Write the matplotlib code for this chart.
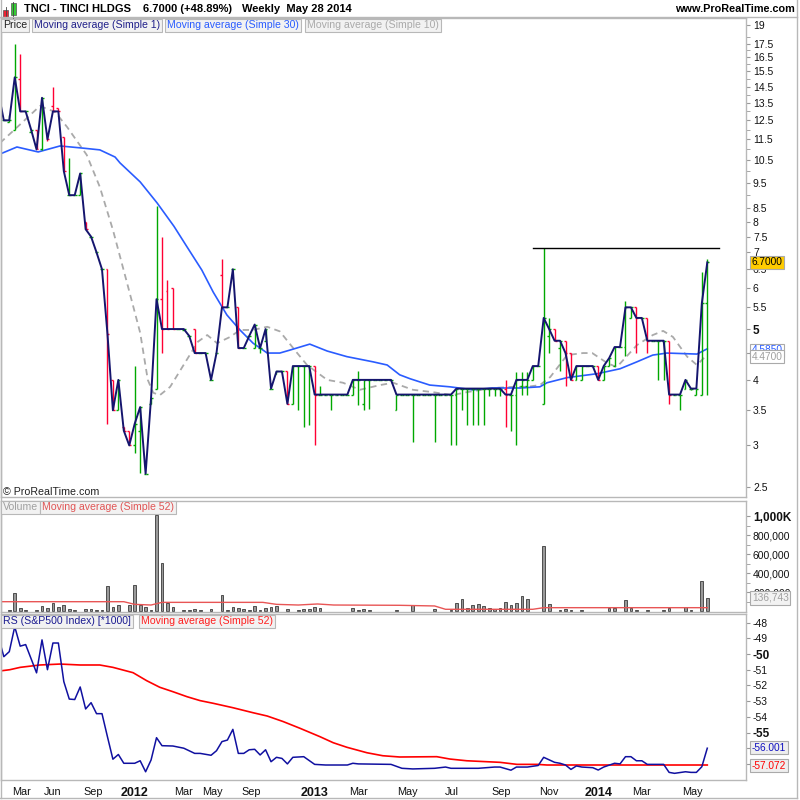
"""
TNCI weekly chart (ProRealTime style) recreated with matplotlib.
"""
import numpy as np
import matplotlib
matplotlib.use('Agg')
import matplotlib.pyplot as plt
import matplotlib.transforms as mtransforms
from matplotlib.patches import Rectangle
from matplotlib.lines import Line2D
from matplotlib.ticker import NullFormatter

plt.rcParams['font.family'] = ['Liberation Sans', 'DejaVu Sans']

# ---- weekly bars (one entry per bar, oldest first) ----
closes = [14.1, 12.5, 12.5, 15.1, 13.0, 13.0, 12.0, 11.0, 13.8, 11.5,
          13.0, 13.0, 10.0, 9.0, 9.0, 9.9, 7.75, 7.5, 7.0, 6.5,
          4.9, 3.5, 4.0, 3.2, 3.0, 3.3, 3.55, 2.65, 3.7, 5.7,
          5.0, 5.0, 5.0, 5.0, 5.0, 4.85, 4.5, 4.5, 4.5, 4.0,
          4.5, 5.5, 5.5, 6.5, 4.6, 4.6, 4.85, 5.1, 4.6, 5.0,
          3.85, 4.15, 4.15, 3.6, 4.25, 4.25, 4.25, 4.25, 3.75, 3.75,
          3.75, 3.75, 3.75, 3.75, 3.75, 4.0, 4.0, 4.0, 4.0, 4.0,
          4.0, 4.0, 4.0, 3.75, 3.75, 3.75, 3.75, 3.75, 3.75, 3.75,
          3.75, 3.75, 3.75, 3.75, 3.85, 3.85, 3.85, 3.85, 3.85, 3.85,
          3.85, 3.85, 3.85, 3.75, 3.75, 4.0, 4.0, 4.0, 4.25, 4.25,
          5.25, 5.0, 4.75, 4.75, 4.5, 4.0, 4.25, 4.25, 4.25, 4.25,
          4.0, 4.25, 4.4, 4.62, 4.62, 5.5, 5.5, 5.25, 5.25, 4.75,
          4.75, 4.75, 4.75, 3.75, 3.75, 3.75, 4.0, 3.85, 3.85, 5.6,
          6.7]
opens = [14.1, 12.5, 12.4, 12.0, 15.0, 13.0, 11.9, 12.0, 11.0, 11.7,
         13.3, 13.2, 11.6, 9.0, 9.0, 9.0, 8.0, 7.5, 7.0, 6.5,
         6.5, 4.0, 3.5, 3.25, 3.2, 3.0, 3.2, 2.65, 3.6, 3.85,
         5.7, 5.9, 6.0, 5.0, 4.98, 4.85, 5.0, 4.5, 4.5, 4.0,
         4.5, 6.35, 5.5, 6.5, 5.5, 4.6, 4.85, 4.6, 4.6, 4.75,
         3.85, 4.1, 4.15, 4.15, 3.6, 4.25, 4.25, 4.25, 4.25, 3.75,
         3.75, 3.75, 3.75, 3.75, 3.75, 3.75, 4.0, 3.6, 4.0, 4.0,
         4.0, 4.0, 4.0, 3.5, 3.75, 3.75, 3.75, 3.75, 3.75, 3.75,
         3.75, 3.75, 3.75, 3.75, 3.75, 3.85, 3.85, 3.85, 3.85, 3.85,
         3.85, 3.85, 3.85, 3.85, 3.75, 3.75, 3.9, 3.9, 4.0, 4.25,
         3.6, 4.85, 5.0, 4.6, 4.75, 4.5, 4.0, 4.0, 4.25, 4.25,
         4.25, 4.0, 4.25, 4.25, 4.62, 4.62, 5.25, 5.5, 5.25, 5.25,
         4.75, 4.75, 4.75, 4.75, 3.75, 3.75, 3.85, 3.85, 3.75, 3.75,
         5.6]
highs = [14.1, 12.5, 12.8, 17.5, 16.7, 13.0, 12.0, 12.0, 13.8, 11.7,
         14.5, 13.2, 11.6, 10.6, 9.0, 9.9, 8.0, 7.5, 7.0, 6.5,
         6.5, 4.0, 4.0, 3.25, 3.2, 4.25, 3.55, 2.65, 3.7, 8.6,
         7.5, 6.2, 6.0, 5.0, 5.0, 4.85, 5.0, 4.5, 4.5, 4.0,
         4.5, 6.8, 5.5, 6.5, 5.5, 4.6, 4.85, 5.1, 4.6, 5.0,
         3.85, 4.15, 4.15, 4.15, 4.25, 4.25, 4.25, 4.25, 4.25, 3.9,
         3.75, 3.75, 3.75, 3.75, 3.75, 4.0, 4.15, 4.0, 4.0, 4.0,
         4.0, 4.0, 4.0, 3.75, 3.75, 3.75, 3.75, 3.75, 3.75, 3.75,
         3.75, 3.75, 3.75, 3.75, 3.85, 3.85, 3.85, 3.85, 3.85, 3.85,
         3.85, 3.85, 3.85, 4.0, 3.75, 4.14, 4.14, 4.14, 4.25, 4.25,
         7.14, 5.25, 5.0, 4.75, 4.75, 4.5, 4.25, 4.25, 4.25, 4.25,
         4.25, 4.25, 4.4, 4.62, 4.62, 5.65, 5.5, 5.5, 5.25, 5.25,
         4.75, 4.75, 4.75, 4.75, 3.75, 3.75, 4.0, 3.85, 3.85, 6.42,
         6.8]
lows = [14.1, 12.5, 12.4, 12.0, 13.0, 13.0, 11.9, 11.0, 10.95, 11.4,
        13.0, 13.0, 10.0, 9.0, 9.0, 9.0, 7.75, 7.5, 7.0, 6.5,
        3.3, 3.5, 3.5, 3.2, 3.0, 2.9, 2.66, 2.65, 3.6, 3.85,
        4.5, 5.0, 5.0, 5.0, 4.98, 4.85, 4.5, 4.5, 4.5, 4.0,
        4.5, 5.5, 5.5, 6.5, 4.6, 4.6, 4.85, 4.6, 4.5, 4.75,
        3.85, 4.1, 4.15, 3.6, 3.6, 3.5, 3.25, 3.28, 3.0, 3.75,
        3.75, 3.5, 3.75, 3.75, 3.75, 3.75, 3.58, 3.5, 3.52, 4.0,
        4.0, 4.0, 4.0, 3.5, 3.75, 3.75, 3.05, 3.75, 3.75, 3.75,
        3.05, 3.75, 3.75, 3.0, 3.0, 3.5, 3.28, 3.28, 3.28, 3.28,
        3.72, 3.72, 3.72, 3.25, 3.2, 3.0, 3.75, 3.75, 4.0, 4.25,
        3.6, 4.5, 4.75, 4.15, 3.9, 4.0, 4.0, 4.0, 4.25, 4.25,
        4.0, 4.0, 4.25, 4.25, 4.62, 4.45, 5.25, 4.5, 5.25, 4.5,
        4.75, 4.0, 4.0, 3.6, 3.75, 3.5, 3.85, 3.82, 3.75, 3.75,
        3.75]
# weekly volume, thousands of shares
volumes_k = [0, 0, 10, 186, 35, 10, 0, 10, 53, 28,
             81, 39, 63, 21, 10, 0, 18, 18, 10, 10,
             263, 39, 63, 0, 63, 274, 63, 39, 10, 1010,
             502, 81, 39, 0, 10, 10, 18, 10, 0, 18,
             0, 168, 10, 39, 28, 18, 10, 53, 10, 28,
             39, 53, 0, 18, 0, 10, 18, 18, 39, 28,
             0, 0, 0, 0, 0, 28, 10, 18, 10, 0,
             0, 0, 0, 10, 0, 0, 63, 0, 0, 0,
             18, 0, 0, 10, 81, 123, 28, 63, 74, 53,
             28, 18, 28, 91, 63, 81, 158, 123, 0, 0,
             684, 74, 0, 10, 18, 10, 0, 10, 0, 0,
             0, 0, 35, 28, 0, 112, 28, 10, 0, 10,
             0, 0, 10, 28, 0, 0, 39, 10, 0, 316,
             137]

# moving averages (bar position, value)
ma30_pos = [0.3, 3.4, 7.3, 11.3, 15.3, 18.6, 21.4, 22.3, 26.0, 29.1, 32.2, 34.6,
            37.3, 39.4, 41.9, 44.3, 46.7, 49.3, 51.6, 53.5, 57.1, 60.3, 63.9,
            68.7, 71.3, 73.6, 75.5, 79.1, 82.8, 87.0, 90.7, 95.7, 99.3, 100.6,
            104.3, 109.8, 114.0, 117.1, 120.0, 122.6, 128.1, 130.0]
ma30_val = [10.78, 11.12, 10.88, 11.17, 11.07, 10.98, 10.64, 10.37, 9.54, 8.70,
            7.85, 7.17, 6.48, 5.88, 5.32, 4.98, 4.70, 4.50, 4.50, 4.56, 4.68,
            4.54, 4.43, 4.33, 4.27, 4.09, 4.02, 3.91, 3.88, 3.83, 3.86, 3.86,
            3.88, 3.95, 4.04, 4.11, 4.20, 4.33, 4.46, 4.50, 4.48, 4.585]
ma10_pos = [0.3, 2.7, 7.6, 10.4, 12.6, 16.2, 18.6, 21.0, 23.6, 26.0, 27.4, 28.4,
            29.6, 31.5, 34.2, 36.6, 38.3, 40.1, 42.5, 44.3, 46.7, 49.3, 51.6,
            54.8, 56.6, 60.3, 63.2, 66.3, 70.0, 72.4, 76.0, 79.7, 83.2, 85.9,
            90.7, 94.4, 97.0, 99.3, 101.2, 104.3, 107.2, 108.9, 111.6, 113.4,
            117.1, 120.0, 121.9, 123.7, 126.3, 128.1, 130.0]
ma10_val = [11.32, 11.93, 13.31, 12.97, 12.14, 10.74, 9.33, 7.73, 6.12, 4.92,
            4.0, 3.78, 3.74, 3.88, 4.31, 4.73, 4.87, 4.70, 4.83, 4.98, 4.98,
            5.05, 4.95, 4.50, 4.27, 4.0, 3.95, 3.83, 3.91, 3.95, 3.83, 3.79,
            3.74, 3.79, 3.86, 3.88, 3.88, 3.91, 4.05, 4.46, 4.50, 4.50, 4.31,
            4.23, 4.66, 4.87, 4.96, 4.83, 4.43, 4.27, 4.47]
vma_pos = [0, 23, 25, 28, 30, 48.5, 51, 55, 58.5, 61.5, 73.6, 80, 82, 98, 100, 130]
vma_k = [98, 98, 70, 63, 91, 91, 70, 63, 74, 63, 60, 53, 18, 18, 35, 35]

# relative strength vs S&P500 (*1000) and its 52-week average
rs_pos = [0, 1, 2, 3, 4, 5, 7, 8, 9, 10, 11, 12, 13, 14, 15, 16, 17, 18, 19, 20,
          21, 22, 23, 25, 26, 27, 28, 29, 30, 32, 34, 36, 37, 39, 40, 41, 42, 43,
          44, 45, 46, 47, 48, 49, 50, 51, 52, 53, 54, 56, 58, 60, 64, 65, 66, 72,
          74, 76, 80, 82, 83, 88, 91, 92, 94, 95, 97, 99, 100, 102, 103, 104, 105,
          106, 107, 109, 110, 111, 113, 114, 115, 116, 117, 118, 119, 122, 123,
          124, 126, 127, 128, 129, 130]
rs_val = [-48.9, -50.17, -49.85, -48.26, -49.5, -49.4, -51.2, -49.1, -51.0, -49.3,
          -49.3, -51.76, -52.87, -52.9, -52.1, -53.5, -53.1, -53.8, -53.8, -55.27,
          -56.7, -56.4, -56.96, -56.96, -56.8, -57.5, -56.75, -55.33, -55.84, -55.86,
          -56.0, -56.33, -56.33, -56.45, -56.16, -55.58, -55.48, -54.8, -56.33,
          -56.33, -56.1, -56.07, -56.43, -56.1, -56.86, -56.58, -56.65, -57.0,
          -56.58, -56.54, -57.03, -57.07, -57.07, -56.96, -57.0, -57.03, -57.28,
          -57.32, -57.28, -57.2, -57.28, -57.28, -57.2, -57.2, -57.4, -57.2, -57.2,
          -57.1, -56.58, -56.9, -56.96, -57.07, -57.35, -57.13, -57.2, -57.24,
          -57.39, -57.2, -56.96, -57.0, -56.54, -56.54, -56.8, -56.8, -57.03,
          -57.03, -57.54, -57.6, -57.5, -57.54, -57.54, -57.18, -56.0]
rsma_pos = [0.3, 2.1, 4, 7.6, 11.3, 15, 18.6, 21, 24.7, 27.2, 29.6, 32, 34.6, 37,
            39.4, 43, 46.7, 49.3, 52.2, 55.3, 59, 61.4, 63.9, 67.6, 70.5, 73.6,
            80.4, 82.8, 85.9, 92, 95.1, 98.8, 100.6, 130]
rsma_val = [-51.08, -51.0, -50.85, -50.7, -50.64, -50.7, -50.7, -50.85, -51.19,
            -51.7, -52.12, -52.4, -52.72, -52.97, -53.14, -53.42, -53.74, -53.95,
            -54.3, -54.73, -55.27, -55.65, -55.94, -56.29, -56.48, -56.56, -56.54,
            -56.69, -56.8, -56.9, -57.03, -57.03, -57.07, -57.07]

resist_level = 7.14
resist_span = [98.0, 132.1]

date_pos = [4.3, 10.0, 17.4, 25.0, 34.0, 39.2, 46.3, 57.9, 66.1, 75.1, 83.2,
            92.2, 101.0, 110.0, 118.0, 127.2]
date_lbl = ['Mar', 'Jun', 'Sep', '2012', 'Mar', 'May', 'Sep', '2013', 'Mar',
            'May', 'Jul', 'Sep', 'Nov', '2014', 'Mar', 'May']

price_ticks = [19, 17.5, 16.5, 15.5, 14.5, 13.5, 12.5, 11.5, 10.5, 9.5, 8.5, 8,
               7.5, 7, 6.5, 6, 5.5, 5, 4.5, 4, 3.5, 3, 2.5]
price_minor = [18, 17, 16, 15, 14, 13, 12, 11, 10, 9]
vol_ticks = [200000, 400000, 600000, 800000, 1000000]
vol_lbl = ['200,000', '400,000', '600,000', '800,000', '1,000K']
rs_ticks = [-48, -49, -50, -51, -52, -53, -54, -55, -56, -57]

GREEN = '#00a800'
RED = '#ff0033'
NAVY = '#15156e'
BORDER = '#b8b8b8'

W, H = 800, 800


def fx(px):
    return px / W


def fy(py):
    return 1 - py / H


closes, opens = np.array(closes), np.array(opens)
highs, lows = np.array(highs), np.array(lows)
vols = np.array(volumes_k) * 1000.0
idx = np.arange(len(closes))

fig = plt.figure(figsize=(8, 8), dpi=100)
ax_p = fig.add_axes([fx(1), fy(497), 745 / W, 479 / H])
ax_v = fig.add_axes([fx(1), fy(612), 745 / W, 111 / H], sharex=ax_p)
ax_r = fig.add_axes([fx(1), fy(780), 745 / W, 166 / H], sharex=ax_p)

for ax in (ax_p, ax_v, ax_r):
    for s in ax.spines.values():
        s.set_color(BORDER)
        s.set_linewidth(1.0)
    ax.yaxis.tick_right()
    ax.tick_params(axis='y', which='both', direction='out', length=3, color='#999999',
                   labelsize=7.5, pad=2, labelcolor='#111111')
    ax.tick_params(axis='x', length=0)
    ax.set_facecolor('white')
ax_p.set_xlim(0.48, 137.1)

# ---- price panel ----
ax_p.set_yscale('log')
ax_p.set_ylim(2.392, 19.59)
ax_p.plot(ma10_pos, ma10_val, color='#aaaaaa', lw=1.3, ls=(0, (3.5, 2.5)), zorder=1)
ax_p.plot(ma30_pos, ma30_val, color='#2a5cff', lw=1.2, zorder=2)
col = np.where(closes >= opens, GREEN, RED)
ax_p.vlines(idx, lows, highs, colors=col, lw=1.0, zorder=3)
ax_p.hlines(opens, idx - 0.35, idx, colors=col, lw=1.0, zorder=3)
ax_p.hlines(closes, idx, idx + 0.35, colors=col, lw=1.0, zorder=3)
ax_p.plot(idx, closes, color=NAVY, lw=1.4, zorder=4)
ax_p.plot(resist_span, [resist_level, resist_level], color='black', lw=1.0, zorder=5,
          clip_on=False)
ax_p.set_yticks(price_ticks)
# 4.5 sits under the moving-average value boxes, so it is left blank
ax_p.set_yticklabels([('' if t == 4.5 else '%g' % t) for t in price_ticks])
ax_p.yaxis.set_minor_formatter(NullFormatter())
ax_p.set_yticks(price_minor, minor=True)
for t in ax_p.get_yticklabels():
    if t.get_text() == '5':
        t.set_fontweight('bold')
        t.set_fontsize(8.5)
ax_p.tick_params(axis='x', labelbottom=False)

tr_p = mtransforms.blended_transform_factory(ax_p.transAxes, ax_p.transData)
ax_p.text(1.008, 6.7, '6.7000', transform=tr_p, va='center', ha='left', fontsize=7.3,
          color='black', zorder=10, clip_on=False,
          bbox=dict(boxstyle='square,pad=0.15', fc='#ffcc00', ec='#aaaaaa', lw=0.8))
ax_p.text(1.008, 4.56, '4.5850', transform=tr_p, va='center', ha='left', fontsize=7.3,
          color='#2a5cff', zorder=10, clip_on=False,
          bbox=dict(boxstyle='square,pad=0.15', fc='white', ec='#aaaaaa', lw=0.8))
ax_p.text(1.008, 4.43, '4.4700', transform=tr_p, va='center', ha='left', fontsize=7.3,
          color='#a0a0a0', zorder=11, clip_on=False,
          bbox=dict(boxstyle='square,pad=0.15', fc='white', ec='#aaaaaa', lw=0.8))

# ---- volume panel ----
ax_v.set_ylim(-10500, 1157900)
m = vols > 0
ax_v.bar(idx[m], vols[m], width=0.5, color='#9a9a9a', edgecolor='#3a3a3a', lw=0.6,
         zorder=2)
ax_v.plot(vma_pos, np.array(vma_k) * 1000.0, color='#e85555', lw=1.0, zorder=3)
ax_v.set_yticks(vol_ticks)
ax_v.set_yticklabels(vol_lbl)
ax_v.set_yticks([100000, 300000, 500000, 700000, 900000], minor=True)
for t in ax_v.get_yticklabels():
    if t.get_text() == '1,000K':
        t.set_fontweight('bold')
        t.set_fontsize(8.5)
ax_v.tick_params(axis='x', labelbottom=False)
tr_v = mtransforms.blended_transform_factory(ax_v.transAxes, ax_v.transData)
ax_v.text(1.008, vols[-1], '136,743', transform=tr_v, va='center', ha='left',
          fontsize=7.3, color='#a0a0a0', zorder=10, clip_on=False,
          bbox=dict(boxstyle='square,pad=0.15', fc='#f2f2f2', ec='#aaaaaa', lw=0.8))

# ---- RS panel ----
ax_r.set_ylim(-58.025, -47.452)
ax_r.plot(rsma_pos, rsma_val, color='#ff0000', lw=1.2, zorder=2)
ax_r.plot(rs_pos, rs_val, color='#1010a0', lw=1.1, zorder=3)
ax_r.set_yticks(rs_ticks)
# -56 and -57 are covered by the last-value boxes
ax_r.set_yticklabels([('' if t in (-56, -57) else str(t)) for t in rs_ticks])
for t in ax_r.get_yticklabels():
    if t.get_text() in ('-50', '-55'):
        t.set_fontweight('bold')
        t.set_fontsize(8.5)
tr_r = mtransforms.blended_transform_factory(ax_r.transAxes, ax_r.transData)
ax_r.text(1.008, -55.97, '-56.001', transform=tr_r, va='center', ha='left',
          fontsize=7.3, color='#1010c0', zorder=10, clip_on=False,
          bbox=dict(boxstyle='square,pad=0.15', fc='#eeeeee', ec='#aaaaaa', lw=0.8))
ax_r.text(1.008, -57.12, '-57.072', transform=tr_r, va='center', ha='left',
          fontsize=7.3, color='#ff0000', zorder=10, clip_on=False,
          bbox=dict(boxstyle='square,pad=0.15', fc='#eeeeee', ec='#aaaaaa', lw=0.8))
ax_r.set_xticks(date_pos)
ax_r.set_xticklabels(date_lbl)
ax_r.tick_params(axis='x', length=0, pad=5, labelsize=7.8, labelcolor='#111111')
for t in ax_r.get_xticklabels():
    if t.get_text().startswith('20'):
        t.set_fontweight('bold')
        t.set_fontsize(9)

# ---- legend rows ----
def tag(x, y, s, color, size=7.6):
    fig.text(fx(x), fy(y), s, color=color, fontsize=size, va='center', ha='left',
             bbox=dict(boxstyle='square,pad=0.18', fc='#f2f2f2', ec=BORDER, lw=0.8))

tag(3, 25.5, 'Price', '#222222')
tag(34, 25.5, 'Moving average (Simple 1)', '#20208a')
tag(167, 25.5, 'Moving average (Simple 30)', '#2a5cff')
tag(307, 25.5, 'Moving average (Simple 10)', '#aaaaaa')
tag(3, 507.5, 'Volume', '#a0a0a0')
tag(42, 507.5, 'Moving average (Simple 52)', '#e05555')
tag(3, 621.5, 'RS (S&P500 Index) [*1000]', '#1a1a90')
tag(141, 621.5, 'Moving average (Simple 52)', '#ff2020')

fig.text(fx(3), fy(492), '\u00a9 ProRealTime.com', fontsize=7.7, color='#222222',
         va='center', ha='left')

# ---- header ----
fig.text(fx(24), fy(9.5), 'TNCI - TINCI HLDGS', fontsize=8, fontweight='bold', va='center')
fig.text(fx(143), fy(9.5), '6.7000 (+48.89%)', fontsize=8, fontweight='bold', va='center')
fig.text(fx(242), fy(9.5), 'Weekly  May 28 2014', fontsize=8, fontweight='bold', va='center')
fig.text(fx(795), fy(9.5), 'www.ProRealTime.com', fontsize=7.8, fontweight='bold',
         va='center', ha='right')

# candle icon
fig.add_artist(Line2D([fx(5.8), fx(5.8)], [fy(7), fy(17)], color='#444444', lw=0.6))
fig.add_artist(Rectangle((fx(3.3), fy(16.7)), 5 / W, 6.7 / H, fc='#ee2233', ec='#555555', lw=0.5))
fig.add_artist(Line2D([fx(13.4), fx(13.4)], [fy(1.7), fy(17.5)], color='#444444', lw=0.6))
fig.add_artist(Rectangle((fx(11), fy(15)), 4.7 / W, 11.7 / H, fc='#33cc33', ec='#555555', lw=0.5))

# frame lines
for (x0, y0, x1, y1) in [(0, 17, 797, 17), (797, 0, 797, 798), (0, 798, 797, 798),
                         (0.5, 0, 0.5, 798)]:
    fig.add_artist(Line2D([fx(x0), fx(x1)], [fy(y0), fy(y1)], color=BORDER, lw=1.0))

fig.savefig('out.png', dpi=100, facecolor='white')
